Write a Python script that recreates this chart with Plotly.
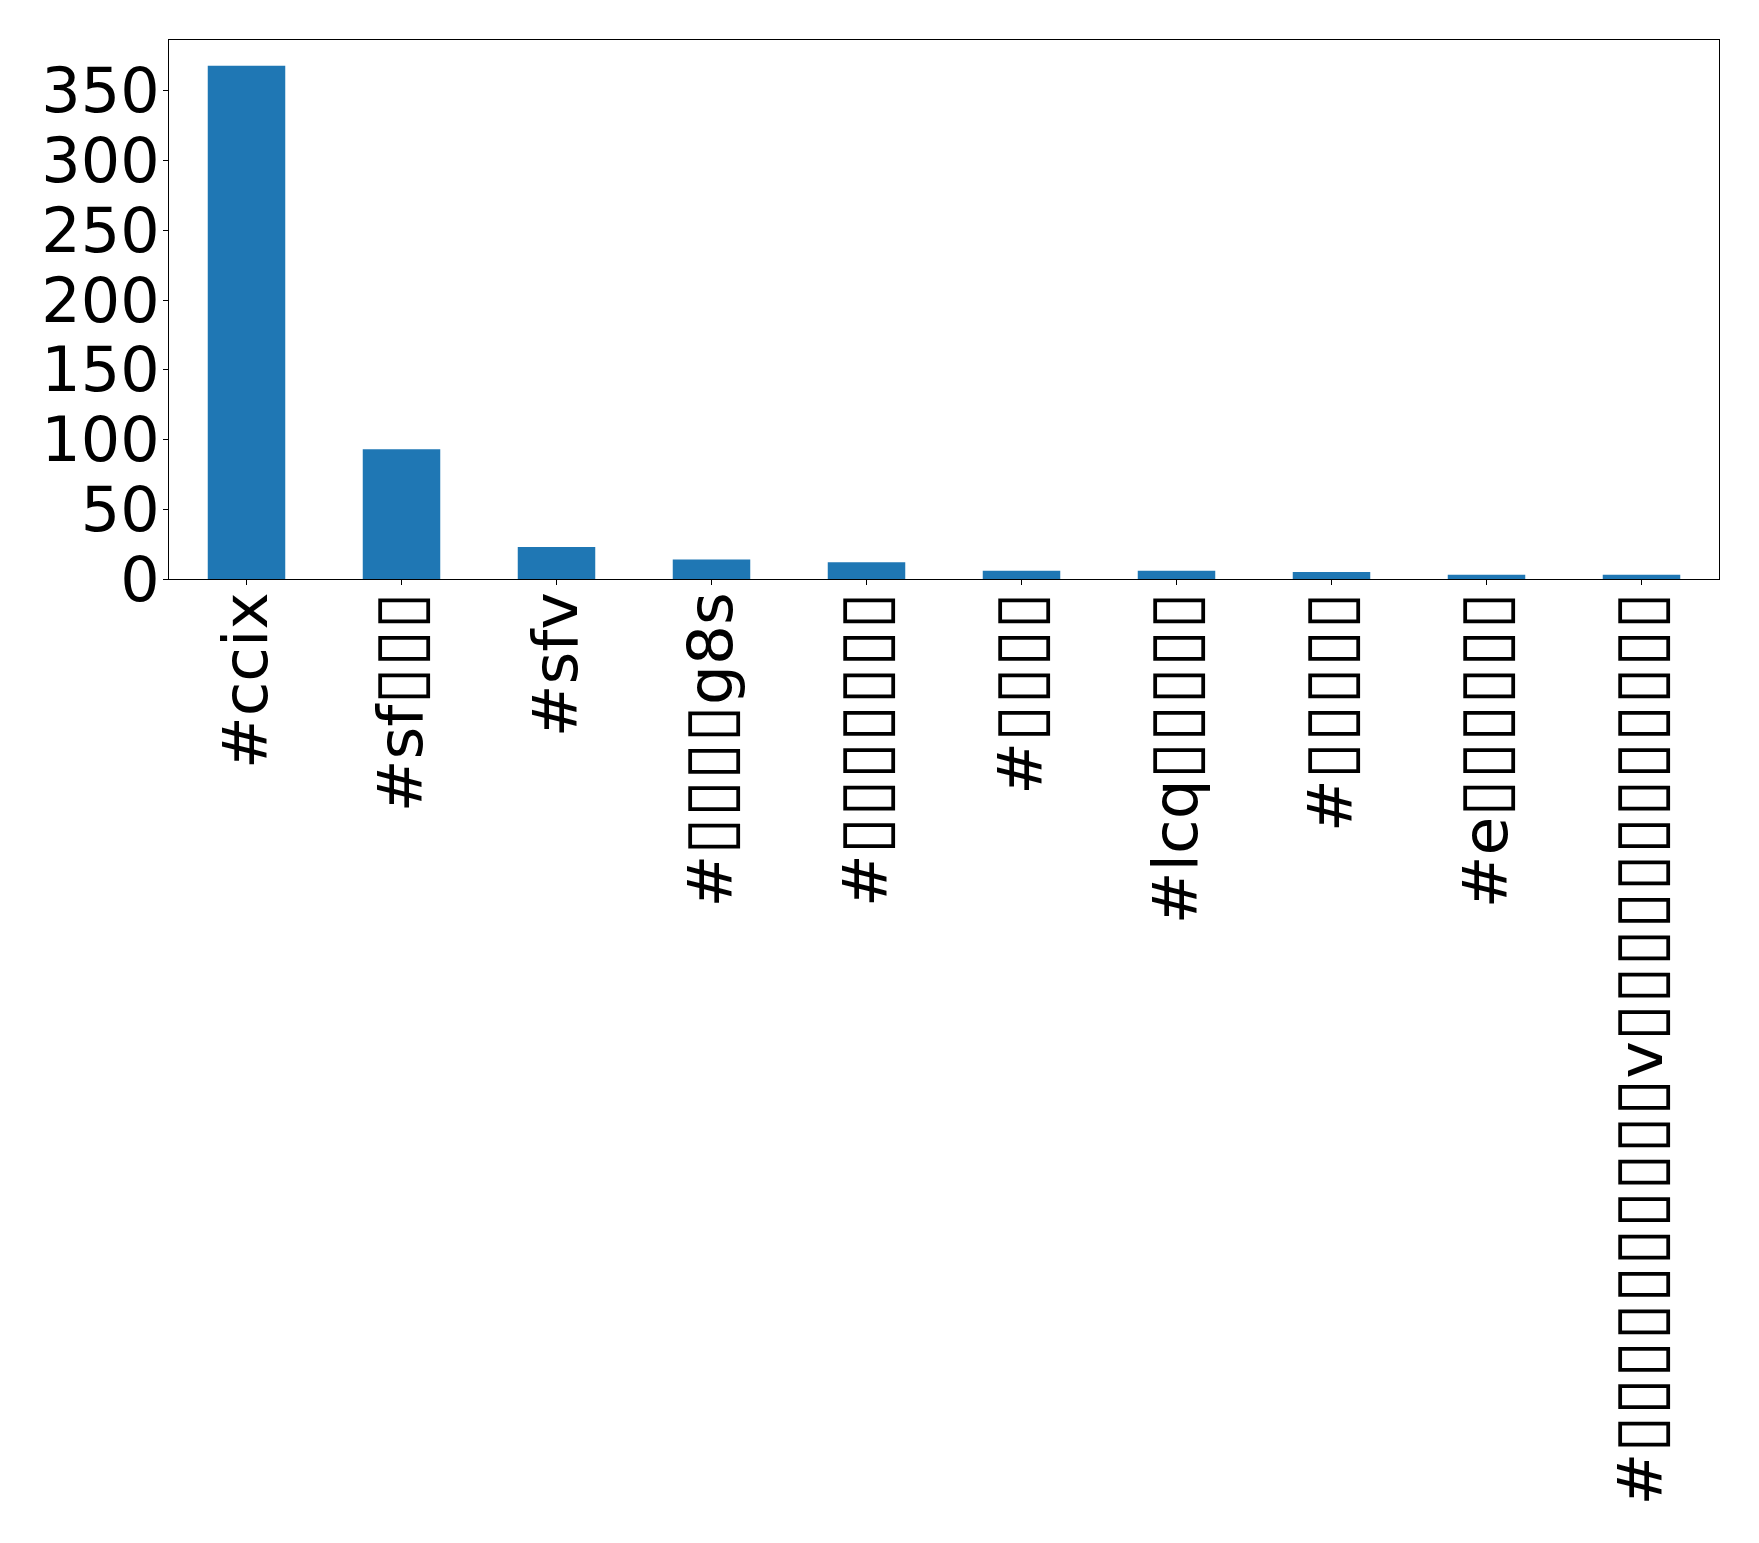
import plotly.graph_objects as go

B = "\u25af"


def boxes(n):
    # missing-glyph boxes as in the original rendering
    return '<span style="font-size:68px">' + B * n + "</span>"


categories = [
    "#ccix",
    "#sf" + boxes(3),
    "#sfv",
    "#" + boxes(4) + "g8s",
    "#" + boxes(7),
    "#" + boxes(4),
    "#lcq" + boxes(5),
    "#" + boxes(5),
    "#e" + boxes(6),
    "#" + boxes(10) + "v" + boxes(12),
]
values = [368, 93, 23, 14, 12, 6, 6, 5, 3, 3]
y_ticks = [0, 50, 100, 150, 200, 250, 300, 350]

positions = list(range(len(categories)))

fig = go.Figure(
    go.Bar(x=positions, y=values, width=0.5, marker=dict(color="#1f77b4", line=dict(width=0)))
)

FONT = "DejaVu Sans"
fig.update_layout(
    width=1759,
    height=1543,
    margin=dict(l=169, r=40, t=40, b=964, autoexpand=False),
    paper_bgcolor="white",
    plot_bgcolor="white",
    showlegend=False,
    font=dict(family=FONT, size=63, color="black"),
)
fig.update_xaxes(
    range=[-0.5, len(categories) - 0.5],
    tickmode="array",
    tickvals=positions,
    ticktext=categories,
    tickangle=-90,
    ticks="outside",
    ticklen=5,
    tickwidth=1,
    tickcolor="black",
    ticklabelstandoff=-18,
    showline=True,
    linecolor="black",
    linewidth=1,
    mirror=True,
    showgrid=False,
    zeroline=False,
    automargin=False,
    tickfont=dict(family=FONT, size=63, color="black"),
)
fig.update_yaxes(
    range=[0, max(values) * 1.05],
    tickmode="array",
    tickvals=y_ticks,
    ticktext=[str(t) for t in y_ticks],
    ticks="outside",
    ticklen=5,
    tickwidth=1,
    tickcolor="black",
    ticklabelstandoff=-9,
    showline=True,
    linecolor="black",
    linewidth=1,
    mirror=True,
    showgrid=False,
    zeroline=False,
    automargin=False,
    tickfont=dict(family=FONT, size=62, color="black"),
)

fig.write_html("out.html")
